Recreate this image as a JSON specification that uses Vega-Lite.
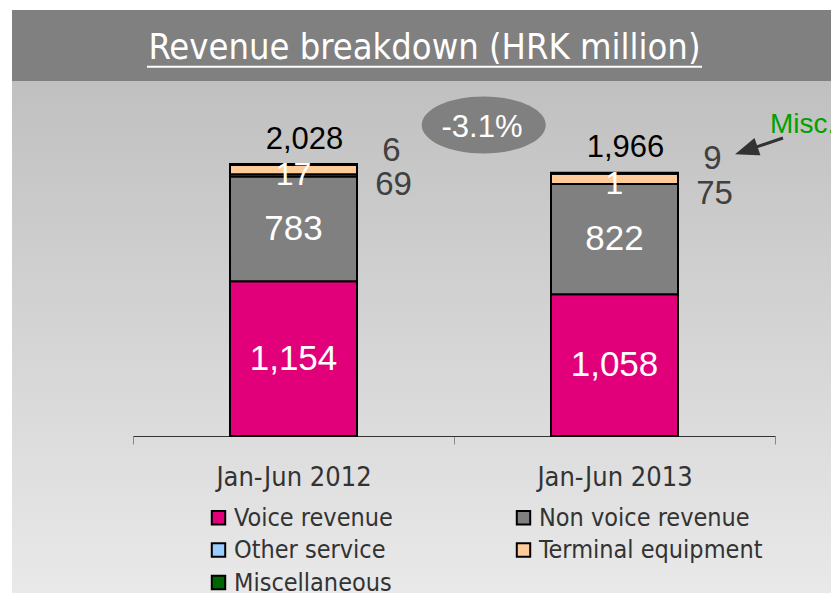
{
  "$schema": "https://vega.github.io/schema/vega-lite/v6.json",
  "width": 819,
  "height": 583,
  "autosize": {"type": "none"},
  "padding": {"left": 12, "top": 10, "right": 0, "bottom": 0},
  "background": "white",
  "title": {
    "text": "Revenue breakdown (HRK million)",
    "color": "white",
    "font": "DejaVu Sans Condensed, sans-serif",
    "fontSize": 36,
    "fontWeight": "normal",
    "anchor": "middle",
    "frame": "group",
    "offset": -85,
    "baseline": "alphabetic",
    "dx": 3
  },
  "datasets": {
    "segments": [
      {"period": "Jan-Jun 2012", "category": "Voice revenue", "order": 1, "value": 1154},
      {"period": "Jan-Jun 2012", "category": "Non voice revenue", "order": 2, "value": 783},
      {"period": "Jan-Jun 2012", "category": "Other service", "order": 3, "value": 17},
      {"period": "Jan-Jun 2012", "category": "Terminal equipment", "order": 4, "value": 69},
      {"period": "Jan-Jun 2012", "category": "Miscellaneous", "order": 5, "value": 6},
      {"period": "Jan-Jun 2013", "category": "Voice revenue", "order": 1, "value": 1058},
      {"period": "Jan-Jun 2013", "category": "Non voice revenue", "order": 2, "value": 822},
      {"period": "Jan-Jun 2013", "category": "Other service", "order": 3, "value": 1},
      {"period": "Jan-Jun 2013", "category": "Terminal equipment", "order": 4, "value": 75},
      {"period": "Jan-Jun 2013", "category": "Miscellaneous", "order": 5, "value": 9}
    ],
    "totals": [
      {"period": "Jan-Jun 2012", "total": 2028},
      {"period": "Jan-Jun 2013", "total": 1966}
    ],
    "change": [
      {"period": "Jan-Jun 2012", "total": 2028, "change": "-3.1%"}
    ]
  },
  "data": {"name": "segments"},
  "encoding": {
    "x": {
      "field": "period",
      "type": "nominal",
      "scale": {"range": [121, 763], "paddingInner": 0, "paddingOuter": 0},
      "axis": {
        "title": null,
        "labelAngle": 0,
        "tickBand": "extent",
        "offset": -157,
        "tickSize": 8,
        "tickColor": "#888888",
        "domainColor": "#333333",
        "labelPadding": 41,
        "labelBaseline": "alphabetic",
        "labelFont": "DejaVu Sans Condensed, sans-serif",
        "labelFontSize": 27,
        "labelColor": "#333333",
        "labelLimit": 0
      }
    }
  },
  "layer": [
    {
      "mark": {"type": "bar", "size": 127, "stroke": "black", "strokeWidth": 2},
      "encoding": {
        "y": {"field": "value", "type": "quantitative", "stack": "zero", "scale": {"domain": [-1172, 3179], "nice": false, "zero": false}, "axis": null},
        "color": {
          "field": "category",
          "type": "nominal",
          "scale": {
            "domain": ["Voice revenue", "Non voice revenue", "Other service", "Terminal equipment", "Miscellaneous"],
            "range": ["#e2007a", "#808080", "#99ccff", "#ffcc99", "#006600"]
          },
          "legend": {
            "title": null,
            "orient": "none",
            "direction": "horizontal",
            "legendX": 194,
            "legendY": 495,
            "columns": 2,
            "columnPadding": 118,
            "rowPadding": 6.5,
            "symbolType": "square",
            "symbolSize": 180,
            "symbolStrokeColor": "black",
            "symbolStrokeWidth": 2,
            "labelFont": "DejaVu Sans Condensed, sans-serif",
            "labelFontSize": 25,
            "labelColor": "#333333",
            "labelLimit": 0,
            "labelOffset": 3
          }
        },
        "order": {"field": "order", "type": "quantitative"}
      }
    },
    {
      "transform": [
        {"stack": "value", "groupby": ["period"], "sort": [{"field": "order", "order": "ascending"}], "as": ["v0", "v1"]},
        {"fold": ["v0", "v1"], "as": ["edge", "pos"]},
        {"aggregate": [{"op": "mean", "field": "pos", "as": "mid"}, {"op": "max", "field": "value", "as": "value"}], "groupby": ["period", "category"]},
        {"filter": {"field": "category", "oneOf": ["Voice revenue", "Non voice revenue"]}}
      ],
      "mark": {"type": "text", "font": "Liberation Sans", "fontSize": 35, "color": "white", "baseline": "middle"},
      "encoding": {
        "y": {"field": "mid", "type": "quantitative", "scale": {"domain": [-1172, 3179], "nice": false, "zero": false}, "axis": null},
        "text": {"field": "value", "type": "quantitative", "format": ","}
      }
    },
    {
      "transform": [
        {"stack": "value", "groupby": ["period"], "sort": [{"field": "order", "order": "ascending"}], "as": ["v0", "v1"]},
        {"fold": ["v0", "v1"], "as": ["edge", "pos"]},
        {"aggregate": [{"op": "mean", "field": "pos", "as": "mid"}, {"op": "max", "field": "value", "as": "value"}], "groupby": ["period", "category"]},
        {"filter": {"field": "category", "equal": "Other service"}}
      ],
      "mark": {"type": "text", "font": "Liberation Sans", "fontSize": 32, "color": "white", "baseline": "middle"},
      "encoding": {
        "y": {"field": "mid", "type": "quantitative", "scale": {"domain": [-1172, 3179], "nice": false, "zero": false}, "axis": null},
        "text": {"field": "value", "type": "quantitative", "format": ","}
      }
    },
    {
      "transform": [
        {"stack": "value", "groupby": ["period"], "sort": [{"field": "order", "order": "ascending"}], "as": ["v0", "v1"]},
        {"filter": {"field": "category", "equal": "Terminal equipment"}}
      ],
      "mark": {"type": "text", "font": "Liberation Sans", "fontSize": 33, "color": "#404040", "baseline": "alphabetic", "dx": 100, "dy": 30},
      "encoding": {
        "y": {"field": "v1", "type": "quantitative", "scale": {"domain": [-1172, 3179], "nice": false, "zero": false}, "axis": null},
        "text": {"field": "value", "type": "quantitative", "format": ","}
      }
    },
    {
      "transform": [
        {"stack": "value", "groupby": ["period"], "sort": [{"field": "order", "order": "ascending"}], "as": ["v0", "v1"]},
        {"filter": {"field": "category", "equal": "Miscellaneous"}}
      ],
      "mark": {"type": "text", "font": "Liberation Sans", "fontSize": 33, "color": "#404040", "baseline": "alphabetic", "dx": 98, "dy": -3.5},
      "encoding": {
        "y": {"field": "v1", "type": "quantitative", "scale": {"domain": [-1172, 3179], "nice": false, "zero": false}, "axis": null},
        "text": {"field": "value", "type": "quantitative", "format": ","}
      }
    },
    {
      "transform": [
        {"stack": "value", "groupby": ["period"], "sort": [{"field": "order", "order": "ascending"}], "as": ["v0", "v1"]},
        {"filter": {"and": [{"field": "category", "equal": "Miscellaneous"}, {"field": "period", "equal": "Jan-Jun 2013"}]}}
      ],
      "mark": {"type": "text", "font": "Liberation Sans", "fontSize": 28, "color": "#00a000", "align": "left", "baseline": "alphabetic", "dx": 155.5, "dy": -39.7},
      "encoding": {
        "y": {"field": "v1", "type": "quantitative", "scale": {"domain": [-1172, 3179], "nice": false, "zero": false}, "axis": null},
        "text": {"value": "Misc."}
      }
    },
    {
      "transform": [
        {"stack": "value", "groupby": ["period"], "sort": [{"field": "order", "order": "ascending"}], "as": ["v0", "v1"]},
        {"filter": {"and": [{"field": "category", "equal": "Miscellaneous"}, {"field": "period", "equal": "Jan-Jun 2013"}]}}
      ],
      "mark": {
        "type": "point",
        "shape": "M1.685,-0.347 L1.415,-0.255 M1.438,-0.189 L1.245,-0.197 L1.393,-0.321 Z",
        "size": 40000,
        "filled": true,
        "color": "#333333",
        "stroke": "#333333",
        "strokeWidth": 3,
        "opacity": 1
      },
      "encoding": {
        "y": {"field": "v1", "type": "quantitative", "scale": {"domain": [-1172, 3179], "nice": false, "zero": false}, "axis": null}
      }
    },
    {
      "data": {"name": "totals"},
      "mark": {"type": "text", "font": "Liberation Sans", "fontSize": 31, "color": "black", "baseline": "alphabetic", "dx": 11, "dy": -15.5},
      "encoding": {
        "y": {"field": "total", "type": "quantitative", "scale": {"domain": [-1172, 3179], "nice": false, "zero": false}, "axis": null},
        "text": {"field": "total", "type": "quantitative", "format": ","}
      }
    },
    {
      "data": {"name": "change"},
      "mark": {
        "type": "point",
        "shape": "M1.282,-0.392 A0.62,0.285 0 1,0 2.522,-0.392 A0.62,0.285 0 1,0 1.282,-0.392 Z",
        "size": 40000,
        "filled": true,
        "color": "#808080",
        "opacity": 1
      },
      "encoding": {
        "y": {"field": "total", "type": "quantitative", "scale": {"domain": [-1172, 3179], "nice": false, "zero": false}, "axis": null}
      }
    },
    {
      "data": {"name": "change"},
      "mark": {"type": "text", "font": "Liberation Sans", "fontSize": 31, "color": "white", "baseline": "alphabetic", "dx": 188.5, "dy": -27.5},
      "encoding": {
        "y": {"field": "total", "type": "quantitative", "scale": {"domain": [-1172, 3179], "nice": false, "zero": false}, "axis": null},
        "text": {"field": "change", "type": "nominal"}
      }
    },
    {
      "data": {"name": "change"},
      "mark": {
        "type": "point",
        "shape": "M-2.93,0 L8.17,0",
        "size": 10000,
        "filled": false,
        "color": "white",
        "strokeWidth": 2,
        "opacity": 1
      },
      "encoding": {
        "y": {"datum": 2756, "type": "quantitative", "scale": {"domain": [-1172, 3179], "nice": false, "zero": false}, "axis": null}
      }
    }
  ],
  "config": {
    "view": {
      "stroke": null,
      "fill": {
        "gradient": "linear",
        "x1": 0, "y1": 0, "x2": 0, "y2": 1,
        "stops": [
          {"offset": 0, "color": "#808080"},
          {"offset": 0.1213, "color": "#808080"},
          {"offset": 0.1213, "color": "#c0c0c0"},
          {"offset": 1, "color": "#e9e9e9"}
        ]
      }
    },
    "text": {"font": "Liberation Sans"}
  }
}
